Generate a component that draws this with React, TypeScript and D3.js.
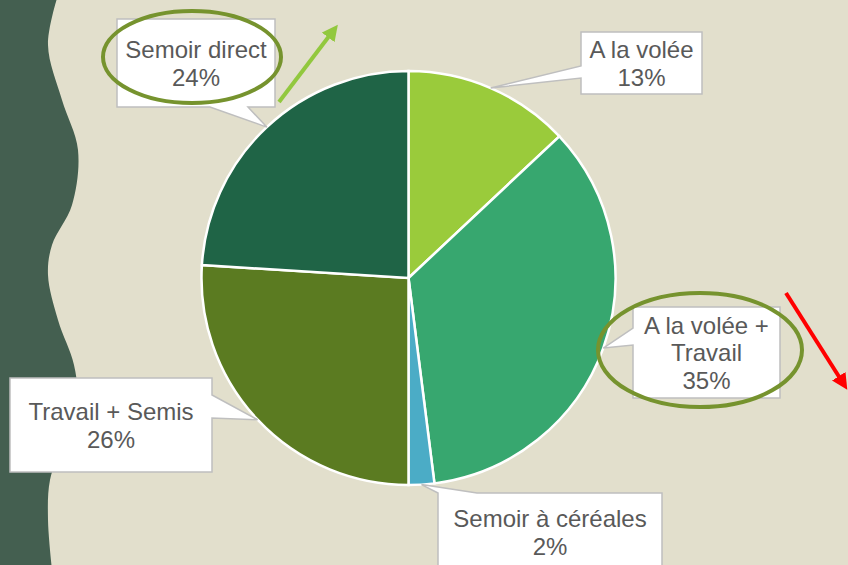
import React from "react";
import * as d3 from "d3";

// values
const categories = ["A la volée", "A la volée + Travail", "Semoir à céréales", "Travail + Semis", "Semoir direct"];
const shares = [13, 35, 2, 26, 24];
const sliceColors = ["#9acb3b", "#37a76f", "#4bacc6", "#5b7b21", "#1f6446"];

// label lines as shown in the boxes
const labelLines = [["A la volée"], ["A la volée +", "Travail"], ["Semoir à céréales"], ["Travail + Semis"], ["Semoir direct"]];

const W = 848, H = 565;
const cx = 408.5, cy = 278, R = 207;
const fs = 24, lh = 27.5;

// callout boxes: x, y, w, h, side the pointer leaves from, base segment [a, b]
const boxes = [
  { x: 581, y: 32, w: 121, h: 62, side: "left", a: 66, b: 78 },
  { x: 633, y: 307, w: 147, h: 91, side: "left", a: 328, b: 345 },
  { x: 438, y: 493, w: 224, h: 78, side: "top", a: 438, b: 477 },
  { x: 10, y: 378, w: 202, h: 94, side: "right", a: 395, b: 418 },
  { x: 117, y: 19, w: 158, h: 88, side: "bottom", a: 210, b: 248 },
];

function calloutPath(b: any, tip: [number, number]) {
  const x0 = b.x, y0 = b.y, x1 = b.x + b.w, y1 = b.y + b.h;
  const p = d3.path();
  p.moveTo(x0, y0);
  if (b.side === "top") { p.lineTo(b.a, y0); p.lineTo(tip[0], tip[1]); p.lineTo(b.b, y0); }
  p.lineTo(x1, y0);
  if (b.side === "right") { p.lineTo(x1, b.a); p.lineTo(tip[0], tip[1]); p.lineTo(x1, b.b); }
  p.lineTo(x1, y1);
  if (b.side === "bottom") { p.lineTo(b.b, y1); p.lineTo(tip[0], tip[1]); p.lineTo(b.a, y1); }
  p.lineTo(x0, y1);
  if (b.side === "left") { p.lineTo(x0, b.b); p.lineTo(tip[0], tip[1]); p.lineTo(x0, b.a); }
  p.closePath();
  return p.toString();
}

// wavy left edge
const wavePts: [number, number][] = [
  [58, -5], [48, 45], [62, 100], [78, 150], [72, 205], [52, 245], [48, 275],
  [58, 320], [74, 365], [77, 400], [64, 440], [50, 480], [48, 520], [52, 570],
];

export default function App() {
  const pie = d3.pie<number>().sort(null).value((d) => d);
  const arcs = pie(shares);
  const arc = d3.arc<any>().innerRadius(0).outerRadius(R);
  const edge = d3.arc<any>().innerRadius(R).outerRadius(R);

  const waveLine = d3.line().curve(d3.curveCatmullRom)(wavePts) || "";
  const waveArea = `M0,-5L${waveLine.slice(1)}L0,570Z`;

  return (
    <svg width={W} height={H} style={{ position: "fixed", left: 0, top: 0, fontFamily: "'Liberation Sans', Arial, sans-serif" }}>
      <defs>
        <marker id="hg" viewBox="0 0 10 10" refX="5" refY="5" markerWidth="4" markerHeight="4" orient="auto">
          <path d="M0,0L10,5L0,10Z" fill="#92c83e" />
        </marker>
        <marker id="hr" viewBox="0 0 10 10" refX="5" refY="5" markerWidth="4" markerHeight="4" orient="auto">
          <path d="M0,0L10,5L0,10Z" fill="#ff0000" />
        </marker>
      </defs>
      <rect width={W} height={H} fill="#e2dfcc" />
      <path d={waveArea} fill="#445f50" />

      <g transform={`translate(${cx},${cy})`}>
        {arcs.map((d, i) => (
          <path key={i} d={arc(d) || ""} fill={sliceColors[i]} stroke="#ffffff" strokeWidth={2.5} />
        ))}
      </g>

      {arcs.map((d, i) => {
        const c = edge.centroid(d);
        const tip: [number, number] = [c[0] + cx, c[1] + cy];
        const b = boxes[i];
        const lines = [...labelLines[i], shares[i] + "%"];
        const mid = b.y + b.h / 2;
        const first = mid - ((lines.length - 1) * lh) / 2 + 0.37 * fs;
        return (
          <g key={categories[i]}>
            <path d={calloutPath(b, tip)} fill="#ffffff" stroke="#bfbfbf" strokeWidth={1.5} />
            <text textAnchor="middle" fontSize={fs} fill="#595959">
              {lines.map((t, k) => (
                <tspan key={k} x={b.x + b.w / 2} y={first + k * lh}>{t}</tspan>
              ))}
            </text>
          </g>
        );
      })}

      <ellipse cx={192} cy={57} rx={89} ry={46} fill="none" stroke="#76932e" strokeWidth={4} />
      <ellipse cx={700} cy={350} rx={102} ry={57} fill="none" stroke="#76932e" strokeWidth={4} />

      <line x1={279} y1={102} x2={333} y2={31} stroke="#92c83e" strokeWidth={4} markerEnd="url(#hg)" />
      <line x1={786} y1={293} x2={843} y2={383} stroke="#ff0000" strokeWidth={4} markerEnd="url(#hr)" />
    </svg>
  );
}
